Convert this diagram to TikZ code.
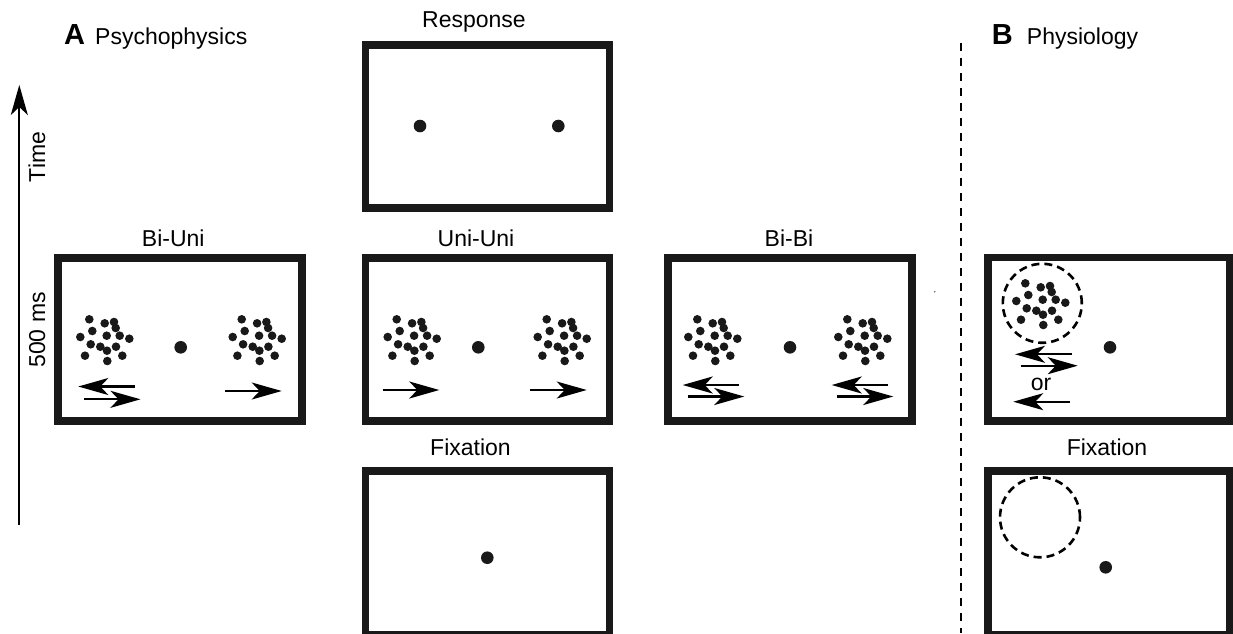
\documentclass[tikz,border=0pt]{standalone}
\usepackage{fontspec}
\setmainfont{Liberation Sans}
\usetikzlibrary{arrows.meta}

\begin{document}
\begin{tikzpicture}[x=1pt,y=-1pt,
  screen/.style={draw=black!90, line width=7.8pt, inner sep=0pt,
                 minimum width=244pt, minimum height=163.5pt},
  label/.style={font=\fontsize{23}{27}\selectfont, inner sep=0pt, anchor=base},
  panel/.style={font=\fontsize{29}{33}\selectfont\bfseries, inner sep=0pt, anchor=base west},
  head/.tip={Stealth[length=30pt,width=17pt,inset=8pt]},
  motion/.style={line width=2.2pt, -head},
  fixdot/.style={fill=black!90},
  rf/.style={line width=2.6pt, dash pattern=on 8pt off 5pt},
  cluster/.pic={
    \foreach \dx/\dy in {-15.7/-20.7, -0.3/-16.7, 9/-18, 10.7/-12, -12.7/-9,
                         1.7/-4.3, 14.7/-4.3, 24.3/-1.3, -24.7/-3, -14.3/4.3,
                         -4.7/6.7, 2/10.7, 11/6.7, -20/15.7, 2.3/21, 17.3/15.7}
      \fill[black!90] (\dx,\dy) circle (4.3pt);
  }]
\useasboundingbox (0,0) rectangle (1233,633);

% panel headings
\node[panel] (hA) at (64,44) {A};
\node[label, anchor=base west] (tA) at (95,44) {Psychophysics};
\node[panel] (hB) at (991.7,44) {B};
\node[label, anchor=base west] (tB) at (1026.7,44) {Physiology};

% time axis
\coordinate (t0) at (19.3,525);
\coordinate (t1) at (19.3,85);
\draw[motion, line width=2pt] (t0) -- (t1);
\node[label, rotate=90] (time) at (45,157) {Time};
\node[label, rotate=90] (dur) at (45,330) {500 ms};

% separator between the two panels
\coordinate (s0) at (961,43);
\coordinate (s1) at (961,633);
\draw[line width=2pt, dash pattern=on 8pt off 7pt] (s0) -- (s1);

% ---------- A: psychophysics ----------
% response screen
\node[screen] (resp) at (487.5,126.4) {};
\node[label] (respT) at (474,27) {Response};
\fill[fixdot] (420,126) circle (6.3pt);
\fill[fixdot] (558.3,126) circle (6.3pt);

% stimulus screens
\node[screen] (biuni) at (179.9,339.4) {};
\node[label] (biuniT) at (173.3,246) {Bi-Uni};
\node[screen] (uniuni) at (487.5,339.5) {};
\node[label] (uniuniT) at (476,246) {Uni-Uni};
\node[screen] (bibi) at (790,339.5) {};
\node[label] (bibiT) at (789,246) {Bi-Bi};

% Bi-Uni contents
\pic at (105,340) {cluster};
\pic at (257.4,340) {cluster};
\fill[fixdot] (180.7,347.3) circle (6.3pt);
\draw[motion] (135,386.5) -- (78.3,386.5);
\draw[motion] (84,399.3) -- (140.5,399.3);
\draw[motion] (225,391) -- (281.7,391);

% Uni-Uni contents
\pic at (412.4,340) {cluster};
\pic at (562.4,340) {cluster};
\fill[fixdot] (478.3,347.3) circle (6.3pt);
\draw[motion] (382.7,390) -- (439.3,390);
\draw[motion] (530,390) -- (586.7,390);

% Bi-Bi contents
\pic at (713,340) {cluster};
\pic at (863,340) {cluster};
\fill[fixdot] (790,347.3) circle (6.3pt);
\draw[motion] (739,385) -- (682.7,385);
\draw[motion] (687.7,396.5) -- (744.3,396.5);
\draw[motion] (888.3,385) -- (831.7,385);
\draw[motion] (836.7,396.5) -- (893.3,396.5);
\fill[black!60] (934.7,291.7) circle (0.9pt);

% fixation screen
\node[screen] (fixA) at (487.5,553.1) {};
\node[label] (fixAT) at (470.5,455) {Fixation};
\fill[fixdot] (487.3,557.7) circle (6.3pt);

% ---------- B: physiology ----------
\node[screen, minimum width=242pt] (phys) at (1109,339.3) {};
\draw[rf] (1042.3,303.3) circle (39.5pt);
\pic at (1041,304) {cluster};
\fill[fixdot] (1110,347.3) circle (6.3pt);
\draw[motion] (1072.3,354.3) -- (1015,354.3);
\draw[motion] (1020.7,365.7) -- (1077.7,365.7);
\node[label] (or) at (1041,390) {or};
\draw[motion] (1070,401.7) -- (1013.3,401.7);

\node[screen, minimum width=242pt] (fixB) at (1109,552.9) {};
\node[label] (fixBT) at (1107,455) {Fixation};
\draw[rf] (1040,517.3) circle (40pt);
\fill[fixdot] (1105.7,567.3) circle (6.3pt);
\end{tikzpicture}
\end{document}
